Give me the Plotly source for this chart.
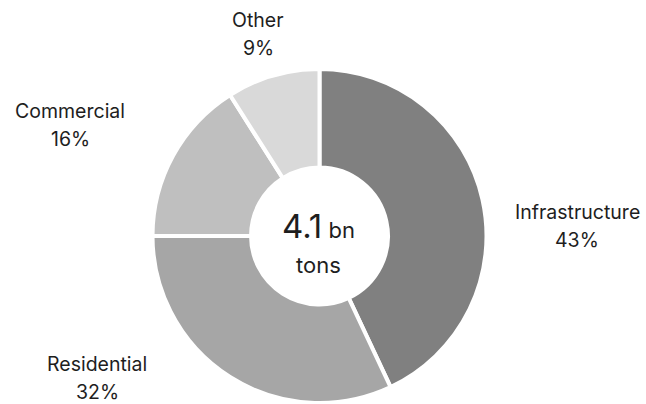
import plotly.graph_objects as go

categories = ["Infrastructure", "Residential", "Commercial", "Other"]
shares = [43, 32, 16, 9]
colors = ["#808080", "#a6a6a6", "#bfbfbf", "#d9d9d9"]
center_value = "4.1"
center_unit = "bn"
center_unit2 = "tons"

W, H = 646, 404
# label positions in pixels (centre of the two-line label)
label_pos = {
    "Infrastructure": (577, 226),
    "Residential": (97, 378),
    "Commercial": (70, 125),
    "Other": (258, 34),
}
FONT = "Inter, Roboto, sans-serif"
TXT = "#1e1e1e"

fig = go.Figure(go.Pie(
    labels=categories,
    values=shares,
    sort=False,
    direction="clockwise",
    rotation=0,
    hole=0.41,
    marker=dict(colors=colors, line=dict(color="white", width=4)),
    textinfo="none",
    hoverinfo="label+percent",
    domain=dict(x=[152 / W, 487 / W], y=[1 / H, 335 / H]),
    showlegend=False,
))

ann = []
for c, s in zip(categories, shares):
    px, py = label_pos[c]
    ann.append(dict(x=px / W, y=1 - (py - 14) / H, xref="paper", yref="paper",
                    text=c, showarrow=False, xanchor="center", yanchor="middle",
                    font=dict(size=19.5, color=TXT, family=FONT)))
    ann.append(dict(x=px / W, y=1 - (py + 14) / H, xref="paper", yref="paper",
                    text=f"{s}%", showarrow=False, xanchor="center", yanchor="middle",
                    font=dict(size=19.5, color=TXT, family=FONT)))

ann.append(dict(x=318 / W, y=1 - 226 / H, xref="paper", yref="paper",
                text=f"<span style='font-size:33px'>{center_value}</span> {center_unit}",
                showarrow=False, xanchor="center", yanchor="middle",
                font=dict(size=22, color=TXT, family=FONT)))
ann.append(dict(x=318 / W, y=1 - 265 / H, xref="paper", yref="paper",
                text=center_unit2, showarrow=False, xanchor="center", yanchor="middle",
                font=dict(size=22, color=TXT, family=FONT)))

fig.update_layout(
    width=W, height=H,
    margin=dict(l=0, r=0, t=0, b=0),
    paper_bgcolor="white",
    plot_bgcolor="white",
    annotations=ann,
)

fig.write_html("out.html")
